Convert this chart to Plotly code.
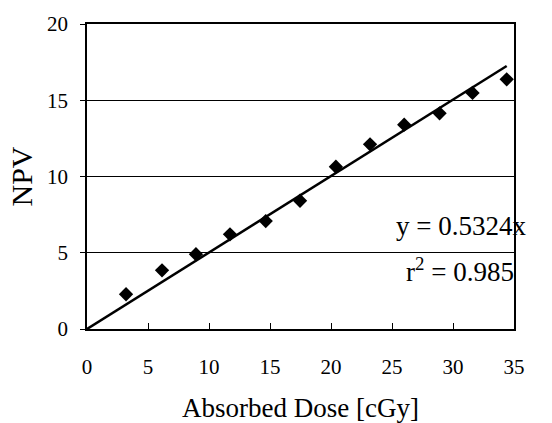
import plotly.graph_objects as go

dose = [3.2, 6.15, 8.93, 11.72, 14.65, 17.46, 20.4, 23.2, 26.0, 28.9, 31.6, 34.4]
npv = [2.28, 3.85, 4.90, 6.21, 7.08, 8.41, 10.64, 12.11, 13.40, 14.14, 15.48, 16.37]
trend_x = [0, 34.4]
trend_y = [0, 17.25]
x_ticks = [0, 5, 10, 15, 20, 25, 30, 35]
y_ticks = [0, 5, 10, 15, 20]
eq_text = "y = 0.5324x"
r2_text = "r<sup>2</sup> = 0.985"

FONT = "Times New Roman, Liberation Serif, serif"

fig = go.Figure()
fig.add_trace(go.Scatter(x=trend_x, y=trend_y, mode="lines",
                         line=dict(color="black", width=2.5), showlegend=False))
fig.add_trace(go.Scatter(x=dose, y=npv, mode="markers",
                         marker=dict(symbol="diamond", size=11, color="black"),
                         showlegend=False))

fig.add_annotation(x=30.66, y=6.75, text=eq_text, showarrow=False,
                   font=dict(family=FONT, size=27, color="black"),
                   xanchor="center", yanchor="middle")
fig.add_annotation(x=30.6, y=3.85, text=r2_text, showarrow=False,
                   font=dict(family=FONT, size=27, color="black"),
                   xanchor="center", yanchor="middle")

fig.update_layout(
    width=552, height=423,
    margin=dict(l=87, r=38, t=24, b=94),
    paper_bgcolor="white", plot_bgcolor="white",
    font=dict(family=FONT, color="black"),
)
fig.update_xaxes(
    range=[0, 35], tickvals=x_ticks, ticks="inside", ticklen=6, tickcolor="black",
    showline=True, linecolor="black", linewidth=1.5, mirror=True,
    showgrid=False, zeroline=False, automargin=False,
    tickfont=dict(family=FONT, size=21, color="black"), ticklabelstandoff=18,
    title=dict(text="Absorbed Dose [cGy]", font=dict(family=FONT, size=27), standoff=26),
)
fig.update_yaxes(
    range=[0, 20], tickvals=y_ticks, ticks="outside", ticklen=5, tickcolor="black",
    showline=True, linecolor="black", linewidth=1.5, mirror=True,
    showgrid=True, gridcolor="black", gridwidth=1, zeroline=False, automargin=False,
    tickfont=dict(family=FONT, size=21, color="black"), ticklabelstandoff=8,
    title=dict(text="NPV", font=dict(family=FONT, size=30), standoff=6),
)

fig.write_html("out.html")
